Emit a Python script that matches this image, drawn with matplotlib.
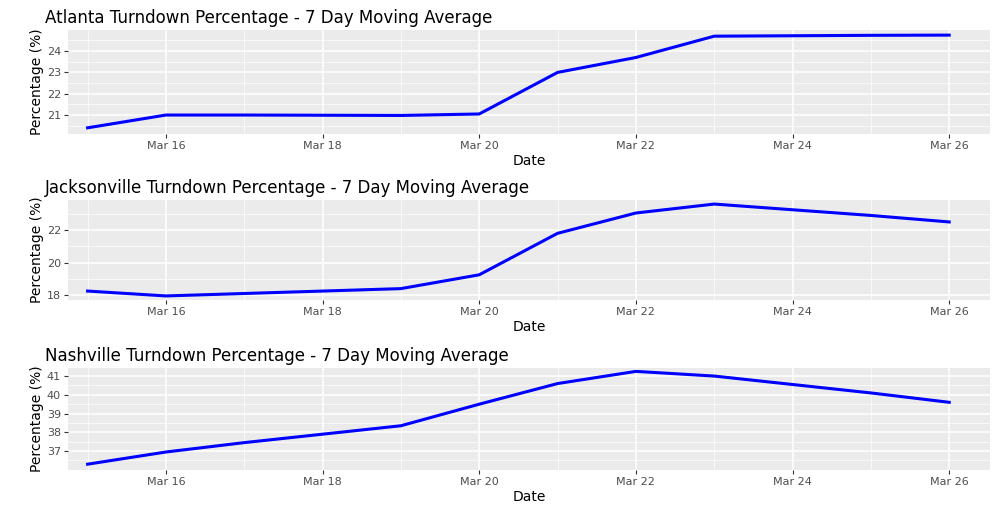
import matplotlib
matplotlib.use("Agg")
import matplotlib.pyplot as plt
import matplotlib.dates as mdates
import datetime as dt

dates = [dt.datetime(2020, 3, d) for d in (15, 16, 17, 18, 19, 20, 21, 22, 23, 24, 25, 26)]
atlanta = [20.4, 21.0, 21.0, 20.99, 20.98, 21.05, 23.0, 23.7, 24.7, 24.72, 24.74, 24.75]
jacksonville = [18.25, 17.95, 18.1, 18.25, 18.4, 19.25, 21.8, 23.05, 23.6, 23.25, 22.9, 22.5]
nashville = [36.3, 36.95, 37.45, 37.9, 38.35, 39.5, 40.6, 41.25, 41.0, 40.55, 40.1, 39.6]

panels = [
    ("Atlanta Turndown Percentage - 7 Day Moving Average", atlanta, [21, 22, 23, 24], (20.11, 24.99), 30, 134),
    ("Jacksonville Turndown Percentage - 7 Day Moving Average", jacksonville, [18, 20, 22], (17.7, 23.85), 200, 300),
    ("Nashville Turndown Percentage - 7 Day Moving Average", nashville, [37, 38, 39, 40, 41], (35.99, 41.43), 368, 470),
]

W, H = 1000, 505
fig = plt.figure(figsize=(W / 100, H / 100), dpi=100)
x0, x1 = 68, 990
for title, vals, yt, ylim, top, bot in panels:
    ax = fig.add_axes([x0 / W, 1 - bot / H, (x1 - x0) / W, (bot - top) / H])
    ax.set_facecolor("#ebebeb")
    for s in ax.spines.values():
        s.set_visible(False)
    ax.plot(dates, vals, color="blue", lw=2.2, zorder=3)
    ax.xaxis.set_major_locator(mdates.DayLocator(bymonthday=[16, 18, 20, 22, 24, 26]))
    ax.xaxis.set_major_formatter(mdates.DateFormatter("%b %d"))
    ax.xaxis.set_minor_locator(mdates.DayLocator(bymonthday=[15, 17, 19, 21, 23, 25]))
    ax.set_yticks(yt)
    step = yt[1] - yt[0]
    ax.set_yticks([yt[0] - step / 2] + [v + step / 2 for v in yt], minor=True)
    ax.set_xlim(dt.datetime(2020, 3, 14, 18), dt.datetime(2020, 3, 26, 12, 30))
    ax.set_ylim(*ylim)
    ax.grid(which="major", color="white", lw=1.1)
    ax.grid(which="minor", color="white", lw=0.5)
    ax.tick_params(which="major", length=3, color="#333333", labelsize=8, labelcolor="#4d4d4d", pad=2)
    ax.tick_params(which="minor", length=0)
    ax.set_xlabel("Date", fontsize=10, labelpad=2)
    ax.set_ylabel("Percentage (%)", fontsize=10, labelpad=2)
    ax.set_title(title, loc="left", fontsize=12, pad=5, x=-0.025)

fig.savefig("out.png", dpi=100)
